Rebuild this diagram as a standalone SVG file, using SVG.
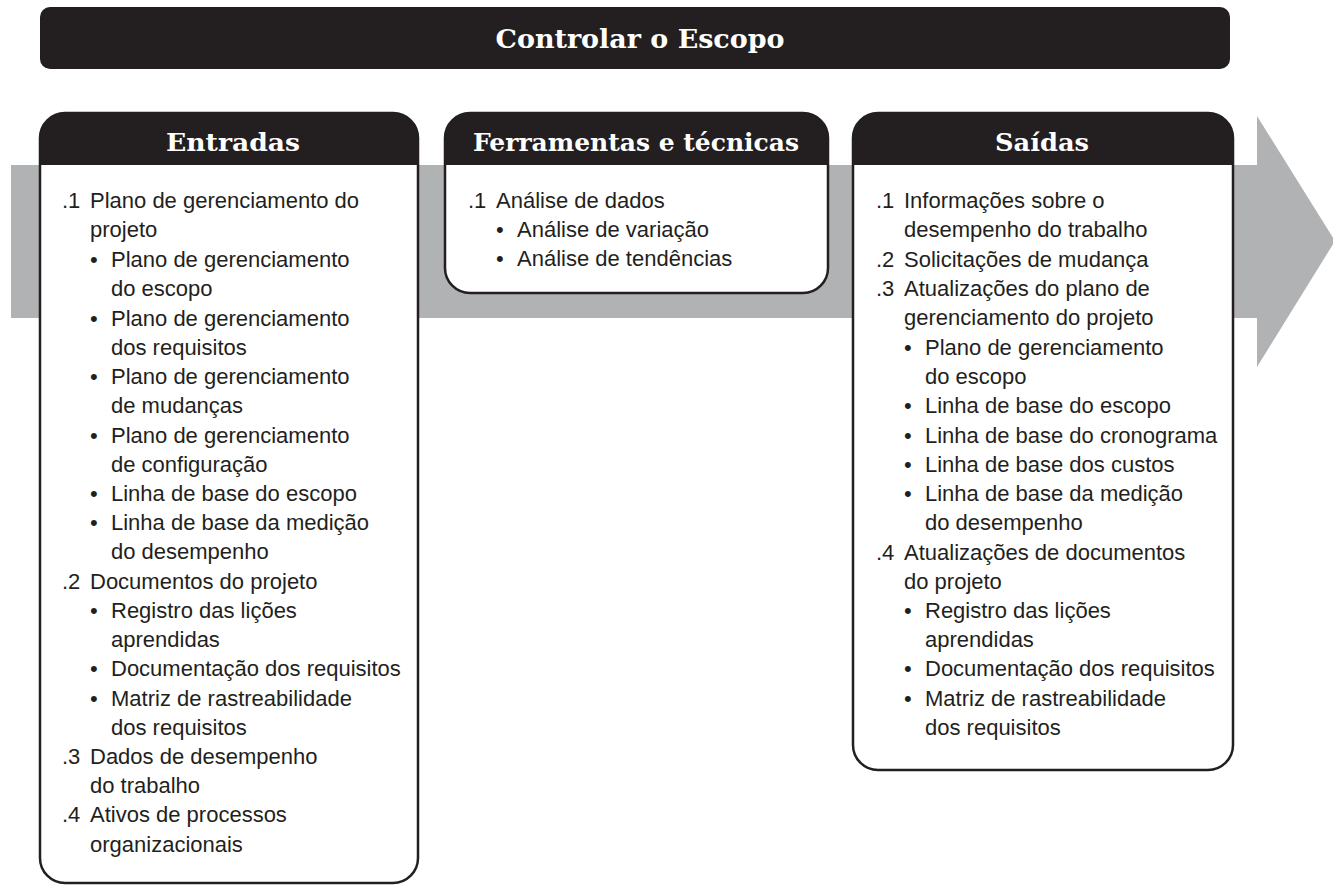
<svg xmlns="http://www.w3.org/2000/svg" width="1333" height="885" viewBox="0 0 1333 885">
<style>
.hd{font-family:"DejaVu Serif","Liberation Serif",serif;font-weight:bold;fill:#ffffff;text-anchor:middle}
.t{font-family:"Liberation Sans",Arial,sans-serif;font-size:22px;fill:#231f20}
.box{fill:#ffffff;stroke:#231f20;stroke-width:2.5}
.hdr{fill:#231f20}
</style>
<rect width="1333" height="885" fill="#ffffff"/>
<g id="arrow">
<polygon points="11,165 1257,165 1257,116 1335,241 1257,367 1257,318 11,318" fill="#b1b2b4"/>
</g>
<g id="title">
<rect x="40" y="7" width="1190" height="62" rx="10" fill="#231f20"/>
<text class="hd" x="640" y="48" font-size="26" textLength="289" lengthAdjust="spacingAndGlyphs">Controlar o Escopo</text>
</g>
<g id="entradas">
<path class="box" d="M40,138 A25,25 0 0 1 65,113 L393,113 A25,25 0 0 1 418,138 L418,858 A25,25 0 0 1 393,883 L65,883 A25,25 0 0 1 40,858 Z"/>
<path class="hdr" d="M40,138 A25,25 0 0 1 65,113 L393,113 A25,25 0 0 1 418,138 L418,165 L40,165 Z"/>
<text class="hd" x="233" y="151" font-size="24" textLength="134" lengthAdjust="spacingAndGlyphs">Entradas</text>
<text class="t">
<tspan x="62" y="208">.1</tspan><tspan x="90" y="208">Plano de gerenciamento do</tspan>
<tspan x="90" y="237">projeto</tspan>
<tspan x="90" y="267">•</tspan><tspan x="111" y="267">Plano de gerenciamento</tspan>
<tspan x="111" y="296">do escopo</tspan>
<tspan x="90" y="326">•</tspan><tspan x="111" y="326">Plano de gerenciamento</tspan>
<tspan x="111" y="355">dos requisitos</tspan>
<tspan x="90" y="384">•</tspan><tspan x="111" y="384">Plano de gerenciamento</tspan>
<tspan x="111" y="413">de mudanças</tspan>
<tspan x="90" y="443">•</tspan><tspan x="111" y="443">Plano de gerenciamento</tspan>
<tspan x="111" y="472">de configuração</tspan>
<tspan x="90" y="501">•</tspan><tspan x="111" y="501">Linha de base do escopo</tspan>
<tspan x="90" y="530">•</tspan><tspan x="111" y="530">Linha de base da medição</tspan>
<tspan x="111" y="559">do desempenho</tspan>
<tspan x="62" y="589">.2</tspan><tspan x="90" y="589">Documentos do projeto</tspan>
<tspan x="90" y="618">•</tspan><tspan x="111" y="618">Registro das lições</tspan>
<tspan x="111" y="647">aprendidas</tspan>
<tspan x="90" y="676">•</tspan><tspan x="111" y="676">Documentação dos requisitos</tspan>
<tspan x="90" y="706">•</tspan><tspan x="111" y="706">Matriz de rastreabilidade</tspan>
<tspan x="111" y="735">dos requisitos</tspan>
<tspan x="62" y="764">.3</tspan><tspan x="90" y="764">Dados de desempenho</tspan>
<tspan x="90" y="793">do trabalho</tspan>
<tspan x="62" y="822">.4</tspan><tspan x="90" y="822">Ativos de processos</tspan>
<tspan x="90" y="852">organizacionais</tspan>
</text>
</g>
<g id="ferramentas">
<path class="box" d="M445,138 A25,25 0 0 1 470,113 L803,113 A25,25 0 0 1 828,138 L828,268 A25,25 0 0 1 803,293 L470,293 A25,25 0 0 1 445,268 Z"/>
<path class="hdr" d="M445,138 A25,25 0 0 1 470,113 L803,113 A25,25 0 0 1 828,138 L828,165 L445,165 Z"/>
<text class="hd" x="636" y="151" font-size="24" textLength="326" lengthAdjust="spacingAndGlyphs">Ferramentas e técnicas</text>
<text class="t">
<tspan x="468" y="208">.1</tspan><tspan x="496" y="208">Análise de dados</tspan>
<tspan x="496" y="237">•</tspan><tspan x="517" y="237">Análise de variação</tspan>
<tspan x="496" y="266">•</tspan><tspan x="517" y="266">Análise de tendências</tspan>
</text>
</g>
<g id="saidas">
<path class="box" d="M853,138 A25,25 0 0 1 878,113 L1208,113 A25,25 0 0 1 1233,138 L1233,745 A25,25 0 0 1 1208,770 L878,770 A25,25 0 0 1 853,745 Z"/>
<path class="hdr" d="M853,138 A25,25 0 0 1 878,113 L1208,113 A25,25 0 0 1 1233,138 L1233,165 L853,165 Z"/>
<text class="hd" x="1042" y="151" font-size="24" textLength="94" lengthAdjust="spacingAndGlyphs">Saídas</text>
<text class="t">
<tspan x="876" y="208">.1</tspan><tspan x="904" y="208">Informações sobre o</tspan>
<tspan x="904" y="237">desempenho do trabalho</tspan>
<tspan x="876" y="267">.2</tspan><tspan x="904" y="267">Solicitações de mudança</tspan>
<tspan x="876" y="296">.3</tspan><tspan x="904" y="296">Atualizações do plano de</tspan>
<tspan x="904" y="325">gerenciamento do projeto</tspan>
<tspan x="904" y="355">•</tspan><tspan x="925" y="355">Plano de gerenciamento</tspan>
<tspan x="925" y="384">do escopo</tspan>
<tspan x="904" y="413">•</tspan><tspan x="925" y="413">Linha de base do escopo</tspan>
<tspan x="904" y="443">•</tspan><tspan x="925" y="443">Linha de base do cronograma</tspan>
<tspan x="904" y="472">•</tspan><tspan x="925" y="472">Linha de base dos custos</tspan>
<tspan x="904" y="501">•</tspan><tspan x="925" y="501">Linha de base da medição</tspan>
<tspan x="925" y="530">do desempenho</tspan>
<tspan x="876" y="560">.4</tspan><tspan x="904" y="560">Atualizações de documentos</tspan>
<tspan x="904" y="589">do projeto</tspan>
<tspan x="904" y="618">•</tspan><tspan x="925" y="618">Registro das lições</tspan>
<tspan x="925" y="647">aprendidas</tspan>
<tspan x="904" y="676">•</tspan><tspan x="925" y="676">Documentação dos requisitos</tspan>
<tspan x="904" y="706">•</tspan><tspan x="925" y="706">Matriz de rastreabilidade</tspan>
<tspan x="925" y="735">dos requisitos</tspan>
</text>
</g>
<g id="connectors"></g>
</svg>
